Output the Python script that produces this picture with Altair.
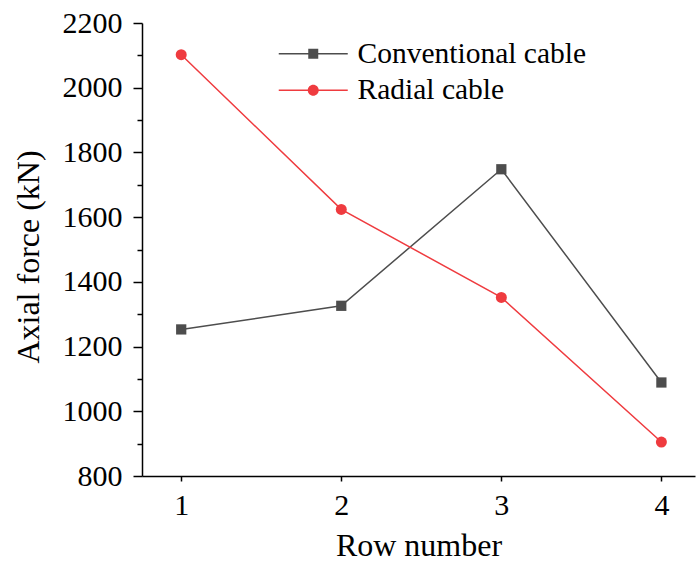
import altair as alt
import pandas as pd

# ---- data ----
rows = [1, 2, 3, 4]
series_names = ["Conventional cable", "Radial cable"]
conventional = [1253, 1326, 1748, 1089]
radial = [2102, 1624, 1352, 905]
x_tick_values = [1, 2, 3, 4]
y_tick_values = list(range(800, 2201, 100))

colors = ["#4d4d4d", "#ef3b3f"]
FONT = "Liberation Serif"

df = pd.DataFrame({
    "row": rows * 2,
    "force": conventional + radial,
    "series": [series_names[0]] * len(rows) + [series_names[1]] * len(rows),
})

color_scale = alt.Scale(domain=series_names, range=colors)

x_axis = alt.Axis(
    values=x_tick_values, format="d",
    tickSize=5, tickWidth=1.5, tickColor="black",
    domainColor="black", domainWidth=1.5,
    labelFont=FONT, labelFontSize=30, labelColor="black", labelPadding=9,
    labelFlush=False, labelOverlap=False,
    title="Row number", titleFont=FONT, titleFontSize=32,
    titleFontWeight="normal", titleColor="black", titlePadding=10,
    grid=False,
)
y_axis = alt.Axis(
    values=y_tick_values, format="d",
    labelExpr="datum.value % 200 === 0 ? datum.label : ''",
    tickSize={"condition": {"test": "datum.value % 200 === 0", "value": 9}, "value": 5},
    tickWidth=1.5, tickColor="black",
    domainColor="black", domainWidth=1.5,
    labelFont=FONT, labelFontSize=30, labelColor="black", labelPadding=11,
    labelOverlap=False,
    title="Axial force (kN)", titleFont=FONT, titleFontSize=32,
    titleFontWeight="normal", titleColor="black", titlePadding=17,
    titleY=233.5,
    grid=False,
)

x_enc = alt.X("row:Q", scale=alt.Scale(domain=[0.755, 4.21], nice=False, zero=False), axis=x_axis)
y_enc = alt.Y("force:Q", scale=alt.Scale(domain=[800, 2200], nice=False, zero=False), axis=y_axis)

base = alt.Chart(df)

lines = base.mark_line(strokeWidth=1.5).encode(
    x=x_enc, y=y_enc,
    color=alt.Color("series:N", scale=color_scale, legend=None),
)

pts_conv = base.transform_filter(alt.datum.series == series_names[0]).mark_point(
    shape="square", filled=True, size=105, opacity=1
).encode(x=x_enc, y=y_enc, color=alt.Color("series:N", scale=color_scale, legend=None))

pts_rad = base.transform_filter(alt.datum.series == series_names[1]).mark_point(
    shape="circle", filled=True, size=121, opacity=1
).encode(x=x_enc, y=y_enc, color=alt.Color("series:N", scale=color_scale, legend=None))

# legend symbols: line segment with marker (custom paths)
sym_square = "M-6.9,-0.15H6.9V0.15H-6.9Z M-1,-1H1V1H-1Z"
sym_circle = "M-6.9,-0.15H6.9V0.15H-6.9Z M-1.1,0A1.1,1.1,0,0,1,1.1,0A1.1,1.1,0,0,1,-1.1,0Z"

legend = alt.Legend(
    title=None, orient="none", legendX=156.5, legendY=16, padding=0,
    labelFont=FONT, labelFontSize=29.5, labelColor="black", labelOffset=29.5,
    labelLimit=500, rowPadding=5.5, symbolSize=100, symbolStrokeWidth=0,
    symbolOpacity=1,
)

legend_layer = base.mark_point(filled=True, size=100).encode(
    x=x_enc, y=y_enc,
    opacity=alt.value(0),
    color=alt.Color("series:N", scale=color_scale, legend=legend),
    shape=alt.Shape("series:N", scale=alt.Scale(domain=series_names, range=[sym_square, sym_circle]), legend=legend),
)

chart = alt.layer(lines, pts_conv, pts_rad, legend_layer).resolve_legend(
    color="independent", shape="independent"
).properties(
    width=553, height=453,
    padding={"left": 142, "top": 23, "right": 1, "bottom": 86},
    autosize=alt.AutoSizeParams(type="none"),
    background="white",
).configure_view(stroke=None)

chart.save("out.html", embed_options={"renderer": "svg", "actions": False})
